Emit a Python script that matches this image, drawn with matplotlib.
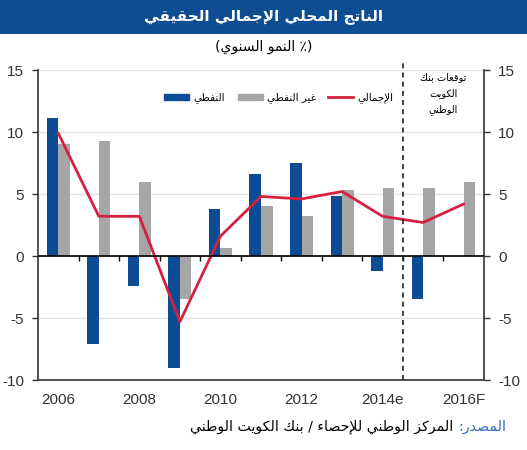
import matplotlib
matplotlib.use('Agg')
import matplotlib.pyplot as plt
from matplotlib.patches import Rectangle
from matplotlib.lines import Line2D
import numpy as np

# data (annual growth %)
years = ['2006', '2007', '2008', '2009', '2010', '2011', '2012', '2013', '2014e', '2015', '2016F']
oil = [11.1, -7.1, -2.4, -9.0, 3.8, 6.6, 7.5, 4.8, -1.2, -3.5, 0.0]
non_oil = [9.0, 9.3, 6.0, -3.5, 0.65, 4.0, 3.2, 5.3, 5.5, 5.5, 6.0]
total = [9.9, 3.2, 3.2, -5.3, 1.6, 4.8, 4.6, 5.2, 3.2, 2.7, 4.2]
yticks = [-10, -5, 0, 5, 10, 15]

# --- simple arabic shaping (matplotlib has no shaping/bidi) ---
FORMS = {
    'ء': (0xFE80, None, None, None),
    'آ': (0xFE81, 0xFE82, None, None), 'أ': (0xFE83, 0xFE84, None, None),
    'ؤ': (0xFE85, 0xFE86, None, None), 'إ': (0xFE87, 0xFE88, None, None),
    'ئ': (0xFE89, 0xFE8A, 0xFE8B, 0xFE8C), 'ا': (0xFE8D, 0xFE8E, None, None),
    'ب': (0xFE8F, 0xFE90, 0xFE91, 0xFE92), 'ة': (0xFE93, 0xFE94, None, None),
    'ت': (0xFE95, 0xFE96, 0xFE97, 0xFE98), 'ث': (0xFE99, 0xFE9A, 0xFE9B, 0xFE9C),
    'ج': (0xFE9D, 0xFE9E, 0xFE9F, 0xFEA0), 'ح': (0xFEA1, 0xFEA2, 0xFEA3, 0xFEA4),
    'خ': (0xFEA5, 0xFEA6, 0xFEA7, 0xFEA8), 'د': (0xFEA9, 0xFEAA, None, None),
    'ذ': (0xFEAB, 0xFEAC, None, None), 'ر': (0xFEAD, 0xFEAE, None, None),
    'ز': (0xFEAF, 0xFEB0, None, None), 'س': (0xFEB1, 0xFEB2, 0xFEB3, 0xFEB4),
    'ش': (0xFEB5, 0xFEB6, 0xFEB7, 0xFEB8), 'ص': (0xFEB9, 0xFEBA, 0xFEBB, 0xFEBC),
    'ض': (0xFEBD, 0xFEBE, 0xFEBF, 0xFEC0), 'ط': (0xFEC1, 0xFEC2, 0xFEC3, 0xFEC4),
    'ظ': (0xFEC5, 0xFEC6, 0xFEC7, 0xFEC8), 'ع': (0xFEC9, 0xFECA, 0xFECB, 0xFECC),
    'غ': (0xFECD, 0xFECE, 0xFECF, 0xFED0), 'ف': (0xFED1, 0xFED2, 0xFED3, 0xFED4),
    'ق': (0xFED5, 0xFED6, 0xFED7, 0xFED8), 'ك': (0xFED9, 0xFEDA, 0xFEDB, 0xFEDC),
    'ل': (0xFEDD, 0xFEDE, 0xFEDF, 0xFEE0), 'م': (0xFEE1, 0xFEE2, 0xFEE3, 0xFEE4),
    'ن': (0xFEE5, 0xFEE6, 0xFEE7, 0xFEE8), 'ه': (0xFEE9, 0xFEEA, 0xFEEB, 0xFEEC),
    'و': (0xFEED, 0xFEEE, None, None), 'ى': (0xFEEF, 0xFEF0, None, None),
    'ي': (0xFEF1, 0xFEF2, 0xFEF3, 0xFEF4),
}
LAMALEF = {'آ': (0xFEF5, 0xFEF6), 'أ': (0xFEF7, 0xFEF8), 'إ': (0xFEF9, 0xFEFA), 'ا': (0xFEFB, 0xFEFC)}
MIRROR = {'(': ')', ')': '('}


def joins_next(c):
    return c in FORMS and FORMS[c][2] is not None


def ar(s):
    out = []
    i = 0
    while i < len(s):
        c = s[i]
        if c not in FORMS:
            out.append(c)
            i += 1
            continue
        prev = s[i - 1] if i > 0 else ''
        con_prev = joins_next(prev)
        if c == 'ل' and i + 1 < len(s) and s[i + 1] in LAMALEF:
            iso, fin = LAMALEF[s[i + 1]]
            out.append(chr(fin if con_prev else iso))
            i += 2
            continue
        nxt = s[i + 1] if i + 1 < len(s) else ''
        con_next = joins_next(c) and nxt in FORMS
        iso, fin, ini, med = FORMS[c]
        if con_prev and con_next:
            f = med
        elif con_prev:
            f = fin
        elif con_next:
            f = ini
        else:
            f = iso
        out.append(chr(f))
        i += 1
    return ''.join(MIRROR.get(ch, ch) for ch in reversed(out))


FONTS = ['DejaVu Sans']
LAT = ['Liberation Sans', 'DejaVu Sans']
plt.rcParams['font.family'] = LAT
plt.rcParams['axes.unicode_minus'] = False

BLUE = '#0b4c95'
GREY = '#a6a6a6'
RED = '#d5213f'

fig = plt.figure(figsize=(5.27, 4.5), dpi=100)

# title banner
fig.patches.append(Rectangle((0, 1 - 34 / 450), 1, 34 / 450, transform=fig.transFigure,
                             facecolor='#0e4d92', edgecolor='none', zorder=0))
fig.text(0.5, 1 - 17 / 450, ar('الناتج المحلي الإجمالي الحقيقي'), color='white',
         fontsize=11, fontweight='bold', family=FONTS, ha='center', va='center')
fig.text(0.5, 1 - 47 / 450, ar('(٪ النمو السنوي)'),
         fontsize=10, family=FONTS, ha='center', va='center')

ax = fig.add_axes([38 / 527, 70 / 450, (484 - 38) / 527, 310 / 450])
x = np.arange(len(years))
w = 0.285
ax.bar(x - w / 2, oil, w, color=BLUE, zorder=3)
ax.bar(x + w / 2, non_oil, w, color=GREY, zorder=3)
ax.plot(x, total, color=RED, lw=2, zorder=4)

ax.set_xlim(-0.5, len(years) - 0.5)
ax.set_ylim(-10, 15)
ax.set_yticks(yticks)
ax.yaxis.grid(True, color='#e3e3e3', lw=1, zorder=0)
ax.set_axisbelow(True)
ax.axhline(0, color='black', lw=1.2, zorder=5)
ax.vlines(x[:-1] + 0.5, -0.4, 0, color='black', lw=1, zorder=5)

ax.spines['top'].set_visible(False)
for s in ['left', 'right', 'bottom']:
    ax.spines[s].set_color('#333333')
    ax.spines[s].set_linewidth(1.2)

ax.set_xticks(x[::2])
ax.set_xticklabels(years[::2])
ax.tick_params(axis='x', length=0, pad=9, labelsize=11, colors='#333333')
ax.tick_params(axis='y', direction='out', length=4, width=1, labelsize=11,
               colors='#333333', left=True, right=True, labelleft=True, labelright=True, pad=6)

# forecast separator
ax.plot([8.5, 8.5], [-10, 15.6], color='#222222', lw=1.2, ls=(0, (3, 2.5)), clip_on=False, zorder=6)
ax.text(9.49, 13.1, ar('توقعات بنك') + '\n' + ar('الكويت') + '\n' + ar('الوطني'),
        family=FONTS, fontsize=7, ha='center', va='center', linespacing=1.75)

handles = [Rectangle((0, 0), 1, 1, color=BLUE), Rectangle((0, 0), 1, 1, color=GREY),
           Line2D([], [], color=RED, lw=2)]
labels = [ar('النفطي'), ar('غير النفطي'), ar('الإجمالي')]
ax.legend(handles, labels, ncol=3, loc='center', bbox_to_anchor=(0.54, 0.91), frameon=False,
          prop={'family': FONTS, 'size': 7.5}, handlelength=2.4, handleheight=0.45,
          columnspacing=1.2, handletextpad=0.4)

# source line
src = fig.text(506 / 527, 1 - 427 / 450, ar('المصدر:'), color='#2e6db4', fontsize=10.2,
               family=FONTS, ha='right', va='center')
ax.annotate(ar('المركز الوطني للإحصاء / بنك الكويت الوطني') + ' ', xy=(0, 0.5), xycoords=src,
            fontsize=10.2, family=FONTS, ha='right', va='center', annotation_clip=False)

fig.savefig('out.png', dpi=100)
